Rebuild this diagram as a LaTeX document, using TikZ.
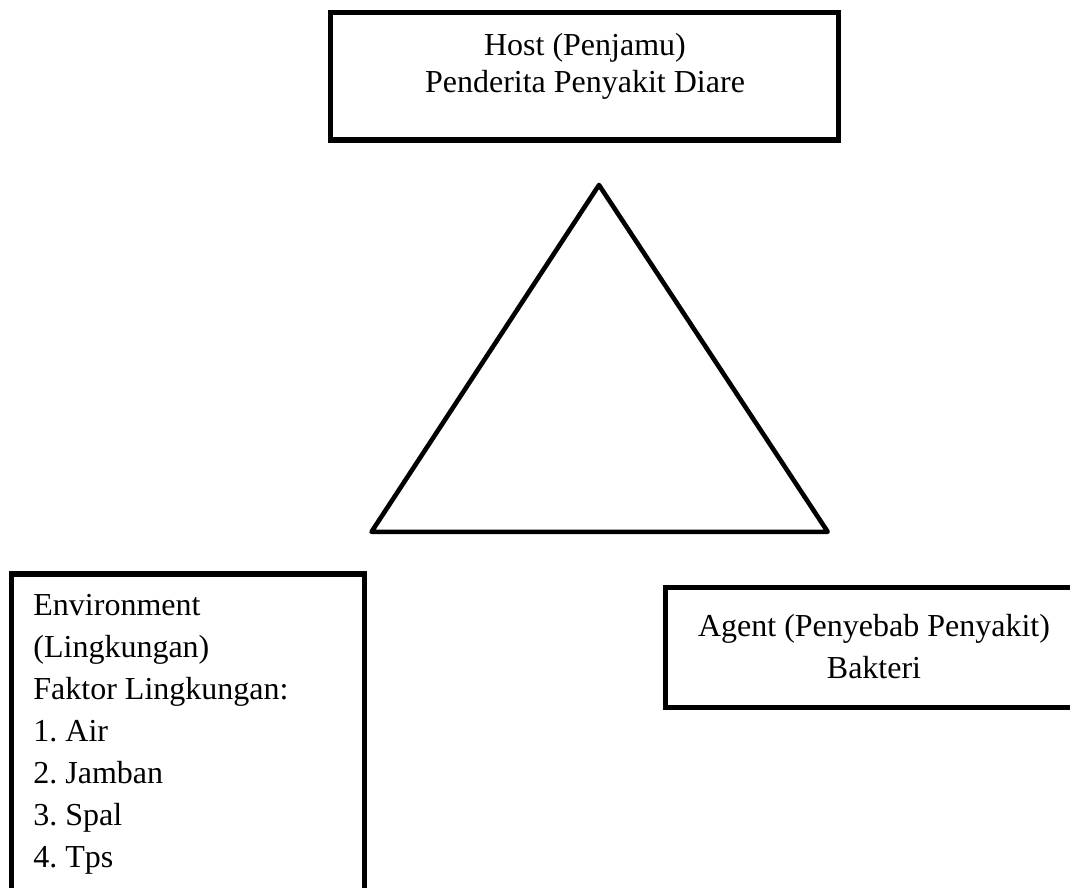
\documentclass[tikz,border=0pt]{standalone}
\usepackage{fontspec}
\setmainfont{Liberation Serif}

\begin{document}
\frenchspacing
\begin{tikzpicture}[x=0.5pt,y=-0.5pt,
  framebox/.style={draw, line width=2.6pt, inner sep=0pt},
  boxtext/.style={inner sep=0pt, font=\fontsize{16}{21}\selectfont}]
\useasboundingbox (0,0) rectangle (1070,888);
\clip (0,0) rectangle (1070,888);

\node[framebox, minimum width=254.2pt, minimum height=63.75pt] (host) at (584.5,76.25) {};
\node[boxtext, anchor=north, align=center, font=\fontsize{16}{18.35}\selectfont] (hostText) at (585,33)
	{Host (Penjamu)\\Penderita Penyakit Diare};

\coordinate (apex) at (599,185);
\coordinate (baseL) at (371.5,531.8);
\coordinate (baseR) at (827.7,531.8);
\draw[line width=2.3pt, line join=round] (apex) -- (baseL) -- (baseR) -- cycle;

\node[framebox, minimum width=176.55pt, minimum height=169pt] (environment) at (187.75,743) {};
\node[boxtext, anchor=north west, align=left] (envText) at (33,594)
	{Environment\\(Lingkungan)\\Faktor Lingkungan:\\1. Air\\2. Jamban\\3. Spal\\4. Tps};

\node[framebox, minimum width=208.3pt, minimum height=60.3pt] (agent) at (874,647.5) {};
\node[boxtext, anchor=north, align=center] (agentText) at (874,614)
	{Agent (Penyebab Penyakit)\\Bakteri};
\end{tikzpicture}
\end{document}
